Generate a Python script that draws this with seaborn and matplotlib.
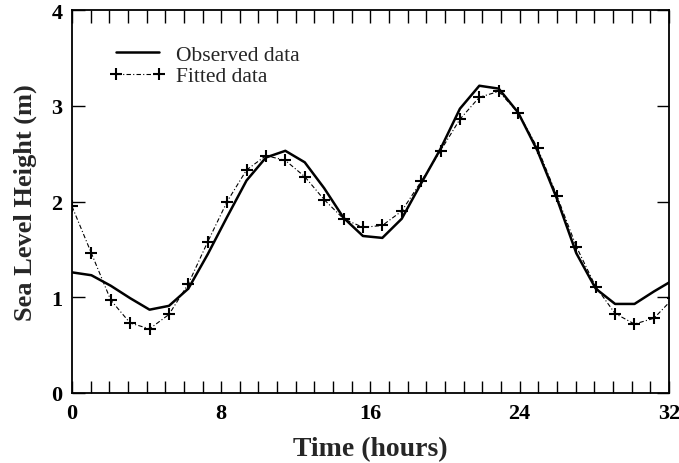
import numpy as np
import pandas as pd
import matplotlib
matplotlib.use("Agg")
import matplotlib.pyplot as plt
from matplotlib.ticker import MultipleLocator
import seaborn as sns

sns.set_theme(style="ticks")
plt.rcParams['font.family'] = ['Liberation Serif', 'DejaVu Serif']

# samples are roughly 1.04 h apart
time_h = [0.0, 1.04, 2.08, 3.12, 4.16, 5.2, 6.24, 7.28, 8.32, 9.36, 10.4,
          11.44, 12.48, 13.52, 14.56, 15.6, 16.64, 17.68, 18.72, 19.76, 20.8,
          21.84, 22.88, 23.92, 24.96, 26.0, 27.04, 28.08, 29.12, 30.16, 31.2,
          32.24]
observed = [1.26, 1.23, 1.12, 0.99, 0.87, 0.91, 1.09, 1.45, 1.84, 2.22, 2.46,
            2.53, 2.41, 2.14, 1.83, 1.64, 1.62, 1.82, 2.19, 2.55, 2.97,
            3.21, 3.18, 2.93, 2.53, 2.03, 1.46, 1.09, 0.93, 0.93, 1.06,
            1.18]
fitted = [1.95, 1.46, 0.97, 0.73, 0.67, 0.82, 1.14, 1.58, 2.00, 2.33, 2.48,
          2.43, 2.26, 2.02, 1.82, 1.73, 1.75, 1.90, 2.21, 2.53, 2.86,
          3.09, 3.15, 2.93, 2.56, 2.06, 1.53, 1.11, 0.83, 0.72, 0.78,
          0.99]

df = pd.DataFrame({"time": time_h, "obs": observed, "fit": fitted})

fig = plt.figure(figsize=(6.79, 4.64), dpi=100)
ax = fig.add_axes([0.106, 0.151, 0.879, 0.825])

sns.lineplot(data=df, x="time", y="obs", ax=ax, color="black", lw=1.8,
             label="Observed data")
sns.lineplot(data=df, x="time", y="fit", ax=ax, color="black", lw=0.8,
             linestyle=(0, (4, 2, 1, 2)), marker="+", markersize=8,
             markeredgewidth=1.5, markeredgecolor="black",
             label="Fitted data")

ax.set_xlim(0, 32)
ax.set_ylim(0, 4)
ax.xaxis.set_major_locator(MultipleLocator(8))
ax.xaxis.set_minor_locator(MultipleLocator(1))
ax.yaxis.set_major_locator(MultipleLocator(1))
ax.tick_params(which="both", direction="in", top=True, right=True,
               length=9, width=1, colors="black", labelsize=16, pad=7)
for lab in ax.get_xticklabels() + ax.get_yticklabels():
    lab.set_fontweight("bold")
for s in ax.spines.values():
    s.set_color("black")
    s.set_linewidth(1.3)

ax.set_xlabel("Time (hours)", fontsize=20, fontweight="bold", labelpad=10)
ax.set_ylabel("Sea Level Height (m)", fontsize=19, fontweight="bold",
              labelpad=10)

leg = ax.legend(loc="upper left", bbox_to_anchor=(0.03, 0.96), frameon=False,
                fontsize=15.5, handlelength=2.6, labelspacing=0.05,
                handletextpad=0.5, numpoints=2)

fig.savefig("out.png", dpi=100)
